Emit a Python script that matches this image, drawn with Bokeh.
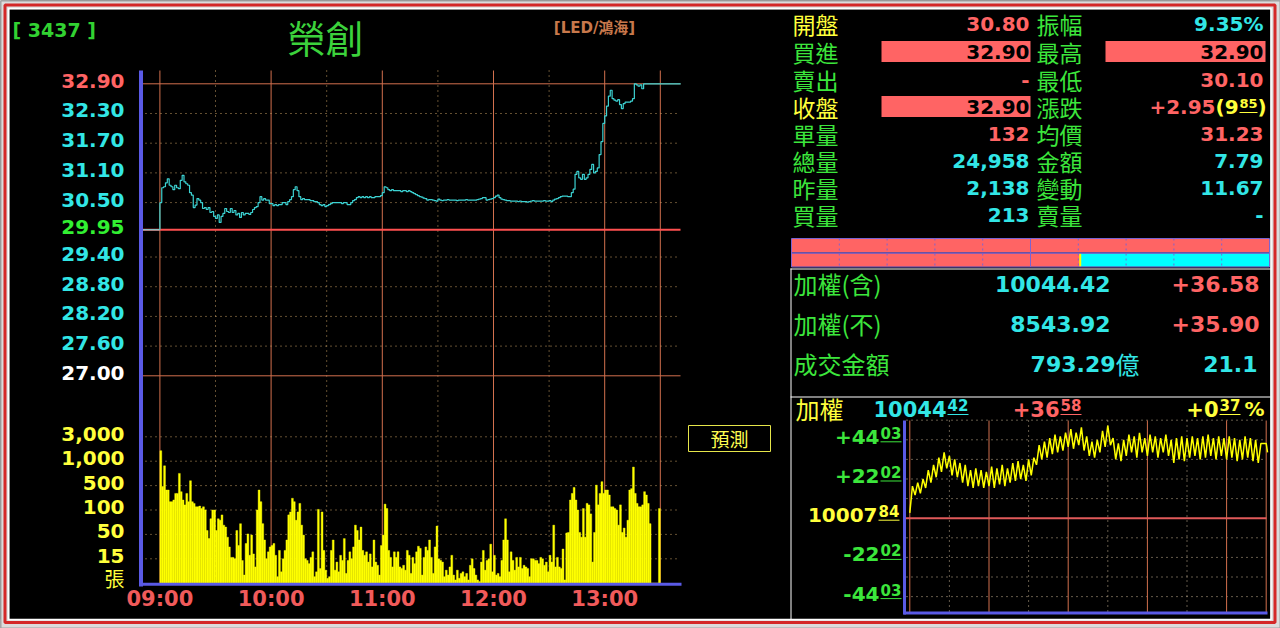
import numpy as np
from bokeh.plotting import figure
from bokeh.models import Range1d
from bokeh.embed import file_html
from bokeh.resources import INLINE
from bokeh.core.properties import value

# ---------------------------------------------------------------- data
STOCK_CODE = "3437"
STOCK_NAME = "榮創"
STOCK_TAG = "[LED/鴻海]"
PREV_CLOSE = 29.95

PRICE_TICKS = [32.90, 32.30, 31.70, 31.10, 30.50, 29.95, 29.40, 28.80, 28.20, 27.60, 27.00]
VOL_TICKS = [0, 15, 50, 100, 500, 1000, 3000]
VOL_TICK_LABELS = ["張", "15", "50", "100", "500", "1,000", "3,000"]
TIME_TICKS = [0, 60, 120, 180, 240]
TIME_LABELS = ["09:00", "10:00", "11:00", "12:00", "13:00"]
HOUR_LINES = [0, 60, 120, 180, 240, 270]
HALF_LINES = [30, 90, 150, 210]

# minutes after 09:00
PRICE_MINUTE = list(range(262)) + [281]
PRICE = [
    30.50, 30.80, 30.82, 30.90, 30.98, 30.85, 30.82, 30.76, 30.85, 30.80,
    30.78, 30.95, 31.05, 30.92, 30.88, 30.85, 30.70, 30.65, 30.40, 30.45,
    30.58, 30.55, 30.50, 30.38, 30.40, 30.36, 30.40, 30.30, 30.32, 30.22,
    30.18, 30.25, 30.10, 30.22, 30.28, 30.38, 30.32, 30.30, 30.38, 30.30,
    30.34, 30.25, 30.28, 30.20, 30.30, 30.25, 30.28, 30.28, 30.26, 30.30,
    30.36, 30.40, 30.42, 30.50, 30.62, 30.55, 30.58, 30.55, 30.55, 30.48,
    30.48, 30.44, 30.46, 30.44, 30.46, 30.46, 30.50, 30.50, 30.46, 30.52,
    30.56, 30.62, 30.76, 30.82, 30.74, 30.62, 30.56, 30.58, 30.56, 30.56,
    30.56, 30.54, 30.54, 30.52, 30.52, 30.50, 30.46, 30.44, 30.46, 30.42,
    30.44, 30.46, 30.48, 30.50, 30.50, 30.50, 30.50, 30.50, 30.48, 30.50,
    30.50, 30.46, 30.46, 30.50, 30.54, 30.56, 30.60, 30.62, 30.60, 30.62,
    30.60, 30.62, 30.60, 30.62, 30.60, 30.60, 30.62, 30.62, 30.62, 30.64,
    30.70, 30.82, 30.80, 30.76, 30.74, 30.76, 30.74, 30.74, 30.74, 30.74,
    30.72, 30.74, 30.74, 30.72, 30.74, 30.72, 30.70, 30.68, 30.66, 30.64,
    30.62, 30.61, 30.59, 30.58, 30.55, 30.56, 30.56, 30.55, 30.54, 30.53,
    30.57, 30.55, 30.54, 30.55, 30.55, 30.56, 30.55, 30.55, 30.55, 30.55,
    30.54, 30.55, 30.55, 30.55, 30.55, 30.56, 30.55, 30.55, 30.55, 30.55,
    30.55, 30.56, 30.57, 30.58, 30.60, 30.60, 30.55, 30.56, 30.57, 30.58,
    30.60, 30.63, 30.65, 30.60, 30.57, 30.56, 30.55, 30.54, 30.54, 30.53,
    30.53, 30.53, 30.53, 30.52, 30.53, 30.52, 30.52, 30.52, 30.51, 30.52,
    30.53, 30.54, 30.53, 30.53, 30.53, 30.53, 30.53, 30.54, 30.53, 30.53,
    30.54, 30.52, 30.55, 30.57, 30.58, 30.60, 30.62, 30.63, 30.63, 30.63,
    30.62, 30.62, 30.70, 30.77, 31.07, 31.13, 31.00, 30.97, 31.07, 30.97,
    31.00, 31.07, 31.17, 31.27, 31.10, 31.13, 31.20, 31.47, 31.73, 32.10,
    32.25, 32.45, 32.65, 32.77, 32.60, 32.57, 32.55, 32.58, 32.48, 32.40,
    32.50, 32.53, 32.53, 32.53, 32.55, 32.60, 32.90, 32.88, 32.85, 32.88,
    32.80, 32.90,
    32.90,
]

VOL_MINUTE = list(range(270))
VOLUME = [
    1860, 484, 905, 428, 428, 236, 236, 264, 372, 372,
    750, 400, 264, 184, 372, 236, 600, 236, 208, 152,
    152, 164, 124, 152, 100, 58, 44, 82, 100, 100,
    58, 82, 79, 90, 69, 65, 46, 32, 17, 17,
    15, 58, 34, 72, 14, 5, 37, 51, 20, 49,
    22, 10, 100, 428, 236, 72, 42, 15, 25, 32,
    34, 37, 20, 4, 27, 7, 15, 27, 42, 90,
    96, 292, 236, 79, 96, 208, 69, 49, 15, 14,
    12, 17, 25, 4, 7, 110, 9, 96, 27, 8,
    3, 4, 27, 42, 8, 13, 7, 20, 14, 44,
    6, 14, 25, 15, 32, 69, 58, 42, 65, 27,
    20, 25, 13, 22, 10, 42, 13, 11, 5, 34,
    49, 196, 124, 27, 17, 10, 25, 17, 25, 10,
    9, 11, 8, 27, 20, 6, 17, 12, 25, 33,
    30, 5, 17, 32, 27, 42, 17, 6, 32, 67,
    15, 14, 13, 4, 8, 5, 10, 20, 5, 2,
    8, 3, 6, 7, 4, 6, 2, 11, 15, 9,
    5, 2, 1, 13, 27, 8, 14, 15, 36, 7,
    20, 5, 6, 4, 14, 42, 82, 42, 7, 25,
    14, 8, 17, 10, 17, 9, 11, 10, 9, 4,
    15, 15, 14, 14, 12, 17, 15, 11, 13, 7,
    20, 13, 69, 10, 17, 10, 9, 29, 2, 53,
    54, 264, 372, 470, 264, 100, 54, 46, 124, 46,
    208, 184, 92, 13, 54, 510, 184, 372, 580, 372,
    428, 428, 346, 152, 152, 124, 100, 69, 184, 54,
    63, 46, 79, 428, 450, 880, 372, 208, 152, 152,
    184, 400, 346, 208, 72, 0, 0, 0, 0, 124,
]

# stats table
STAT_L1 = ["開盤", "買進", "賣出", "收盤", "單量", "總量", "昨量", "買量"]
STAT_V1 = ["30.80", "32.90", "-", "32.90", "132", "24,958", "2,138", "213"]
STAT_L2 = ["振幅", "最高", "最低", "漲跌", "均價", "金額", "變動", "賣量"]
STAT_V2 = ["9.35%", "32.90", "30.10", "+2.95", "31.23", "7.79", "11.67", "-"]
CHG_PCT = "9.85"

# bid/ask ratio bars
RATIO_TOP = 1.0
RATIO_BOTTOM = 0.604

# market index
IDX_ROWS = [("加權(含)", "10044.42", "+36.58"),
            ("加權(不)", "8543.92", "+35.90"),
            ("成交金額", "793.29", "21.1")]
IDX_LAST = "10044.42"
IDX_DIFF = "+36.58"
IDX_PCT = "+0.37"
IDX_BASE = 10007.84
IDX_TICKS = [44.03, 22.02, 0.0, -22.02, -44.03]
IDX_MINUTE = list(range(0, 271, 2)) + [271]
IDX_POINTS = [
    3, 18, 13, 20, 14, 22, 17, 27, 20, 30,
    23, 34, 26, 37, 28, 35, 24, 33, 23, 31,
    20, 30, 18, 27, 17, 28, 18, 27, 17, 26,
    18, 29, 17, 28, 19, 30, 18, 28, 20, 31,
    21, 32, 22, 30, 21, 33, 24, 34, 30, 41,
    33, 43, 34, 45, 36, 47, 37, 46, 38, 48,
    40, 50, 39, 48, 41, 51, 38, 46, 35, 43,
    34, 44, 37, 49, 40, 52, 41, 45, 33, 42,
    32, 44, 35, 47, 37, 46, 34, 48, 37, 45,
    35, 47, 37, 46, 34, 45, 37, 47, 35, 44,
    31, 45, 33, 46, 32, 45, 34, 46, 35, 45,
    33, 46, 34, 47, 35, 45, 33, 46, 35, 45,
    33, 46, 34, 45, 32, 44, 33, 46, 34, 45,
    32, 44, 31, 42, 42, 42,
    37,
]

# ---------------------------------------------------------------- style
BG = "#000000"
GREEN = "#3ce63c"
CYAN = "#32e6e6"
RED = "#ff6464"
YELLOW = "#ffff3c"
ORANGE = "#d2704e"
DOT = "#c8a064"
BLUE = "#5a5ae6"
PURPLE = "#7a64d2"
NUM = "DejaVu Sans"
CJK = "Noto Sans CJK TC"

X0, X1, Y0, Y1 = 0, 1280, 0, 628

p = figure(width=X1 - X0, height=Y1 - Y0,
           x_range=Range1d(X0, X1), y_range=Range1d(Y1, Y0),
           output_backend="svg", toolbar_location=None,
           x_axis_location=None, y_axis_location=None,
           min_border=0, background_fill_color=BG, border_fill_color=BG,
           outline_line_color=None)
p.grid.visible = False


def rng(v_a, px_a, v_b, px_b, px_start, px_end):
    k = (v_b - v_a) / (px_b - px_a)
    return Range1d(start=v_a + (px_start - px_a) * k, end=v_a + (px_end - px_a) * k)


p.extra_x_ranges = {
    "t1": rng(0, 159.4, 270, 659.8, X0, X1),
    "t2": rng(0, 909.3, 270, 1265.7, X0, X1),
    "pct": rng(0, 791, 1, 1269, X0, X1),
}
p.extra_y_ranges = {
    "price": rng(32.90, 83.3, 27.00, 375.3, Y1, Y0),
    "vol": rng(0, 582.7, 6, 436.3, Y1, Y0),
    "idx": rng(0, 517.7, 44.03, 439.3, Y1, Y0),
}


def dy(name, px):
    if name == "default":
        return px
    r = p.extra_y_ranges[name]
    return -px * (r.end - r.start) / (Y1 - Y0)


def txt(x, y, s, color, size, font=NUM, bold=True, align="left",
        xr="default", yr="default", yoff=0):
    p.text(x=[x], y=[y], text=[s], text_color=color, text_font=value(font),
           text_font_size=f"{size}px", text_font_style="bold" if bold else "normal",
           text_align=align, text_baseline="middle",
           x_range_name=xr, y_range_name=yr, y_offset=yoff)


def seg(x0, x1, y0, y1, color, width=1, dash="solid", xr="default", yr="default"):
    p.segment(x0=x0, x1=x1, y0=y0, y1=y1, line_color=color, line_width=width,
              line_dash=dash, x_range_name=xr, y_range_name=yr)


def sup(x, y, big, small, color, bsize, ssize, yr="default", raise_px=4, ul_px=6, yoff=0):
    txt(x, y, big, color, bsize, align="right", yr=yr, yoff=yoff)
    txt(x + 1, y, small, color, ssize, align="left", yr=yr, yoff=yoff - raise_px)
    w = len(small) * 0.70 * ssize
    yy = y + dy(yr, ul_px + yoff)
    seg([x + 1], [x + 1 + w], [yy], [yy], color, 1, yr=yr)


# ---------------------------------------------------------------- window frame
FRAME = "#dcdcdc"
p.quad(left=[0, 0, 0, 1270], right=[1280, 1280, 9, 1280], top=[0, 619, 0, 0],
       bottom=[9, 628, 628, 628], fill_color=FRAME, line_color=None)
p.quad(left=[4.5], right=[1274.5], top=[4.5], bottom=[622], fill_color=None,
       line_color="#d42828", line_width=3)
p.quad(left=[8], right=[1270.5], top=[8], bottom=[619], fill_color=None,
       line_color="#ffffff", line_width=1.5)
p.quad(left=[0.5], right=[1279.5], top=[0.5], bottom=[627.5], fill_color=None,
       line_color="#a0a0a0", line_width=1)

# ---------------------------------------------------------------- title
txt(12, 29, f"[ {STOCK_CODE} ]", "#32d232", 19)
txt(325, 36, STOCK_NAME, "#3cd23c", 38, font=CJK, bold=False, align="center")
txt(594, 27, STOCK_TAG, "#c8784b", 15, font=NUM + ", " + CJK, align="center")

# ---------------------------------------------------------------- main chart grid
n = len(HOUR_LINES)
seg(HOUR_LINES, HOUR_LINES, [70] * n, [584] * n, ORANGE, 1, xr="t1")
m = len(HALF_LINES)
seg(HALF_LINES, HALF_LINES, [70] * m, [584] * m, DOT, 1, "1 4", xr="t1")

mid_ticks = [v for v in PRICE_TICKS if v not in (PRICE_TICKS[0], PRICE_TICKS[-1], PREV_CLOSE)]
k = len(mid_ticks)
seg([145] * k, [680] * k, mid_ticks, mid_ticks, DOT, 1, "1 4", yr="price")
ends = [PRICE_TICKS[0], PRICE_TICKS[-1]]
seg([141, 141], [680, 680], ends, ends, ORANGE, 1, yr="price")

lv = list(range(1, len(VOL_TICKS)))
seg([145] * len(lv), [680] * len(lv), lv, lv, DOT, 1, "1 4", yr="vol")

# volume bars (piecewise level scale of the volume axis)
vol_level = np.interp(VOLUME, VOL_TICKS, np.arange(len(VOL_TICKS)))
p.vbar(x=np.array(VOL_MINUTE) + 0.5, top=vol_level, bottom=0, width=1.0,
       fill_color="#ffff00", line_color="#ffff00", line_width=0.4,
       x_range_name="t1", y_range_name="vol")

# previous close line and price
seg([141], [680], [PREV_CLOSE], [PREV_CLOSE], "#ff5050", 2, yr="price")
seg([-10], [0], [PREV_CLOSE], [PREV_CLOSE], "#8cbebe", 1.5, xr="t1", yr="price")
seg([0], [0], [PREV_CLOSE], [PRICE[0]], "#3cd2d2", 1.2, xr="t1", yr="price")
p.step(x=PRICE_MINUTE, y=PRICE, mode="after", line_color="#3cd2d2", line_width=1.2,
       x_range_name="t1", y_range_name="price")

# axes lines
seg([140.5], [140.5], [70], [586], BLUE, 4)
seg([139], [681], [583.8], [583.8], BLUE, 3)

# price labels
for i, v in enumerate(PRICE_TICKS):
    if i == 0:
        c = RED
    elif i == len(PRICE_TICKS) - 1:
        c = "#ffffff"
    elif v == PREV_CLOSE:
        c = "#32f032"
    else:
        c = CYAN
    txt(124, v, f"{v:.2f}", c, 20, align="right", yr="price", yoff=-3)

# volume labels
for i, (lab, v) in enumerate(zip(VOL_TICK_LABELS, VOL_TICKS)):
    if i == 0:
        txt(124, i, lab, YELLOW, 20, font=CJK, bold=False, align="right", yr="vol", yoff=-5)
    else:
        txt(124, i, lab, YELLOW, 20, align="right", yr="vol", yoff=-3)

# time labels
for t, lab in zip(TIME_TICKS, TIME_LABELS):
    p.text(x=[t], y=[598], text=[lab], text_color="#f05a5a", text_font=value(NUM),
           text_font_size="21px", text_font_style="bold", text_align="center",
           text_baseline="middle", x_range_name="t1")

# forecast box
p.quad(left=[688], right=[770], top=[425], bottom=[451], fill_color=None,
       line_color="#e6e64a", line_width=1)
txt(729, 438, "預測", "#ffff50", 19, font=CJK, bold=False, align="center")

# ---------------------------------------------------------------- stats table
ROW_Y = [23, 51, 79, 106, 133, 160, 187, 214]
V1_COL = [RED, "#000000", RED, "#000000", RED, CYAN, CYAN, CYAN]
V2_COL = [CYAN, "#000000", RED, RED, RED, CYAN, CYAN, CYAN]
for i, y in enumerate(ROW_Y):
    if V1_COL[i] == "#000000":
        p.quad(left=[881], right=[1030], top=[y - 10.5], bottom=[y + 10.5],
               fill_color=RED, line_color=None)
    if V2_COL[i] == "#000000":
        p.quad(left=[1105], right=[1265], top=[y - 10.5], bottom=[y + 10.5],
               fill_color=RED, line_color=None)
    lab_col = YELLOW if STAT_L1[i] in ("開盤", "收盤") else GREEN
    txt(792, y, STAT_L1[i], lab_col, 23, font=CJK, bold=False)
    txt(1029, y, STAT_V1[i], V1_COL[i], 20, align="right")
    txt(1036, y, STAT_L2[i], GREEN, 23, font=CJK, bold=False)
    if STAT_L2[i] == "漲跌":
        big, small = CHG_PCT.split(".")
        txt(1215, y, STAT_V2[i], RED, 20, align="right")
        txt(1215, y, "(" + big, YELLOW, 20, align="left")
        txt(1239, y, small, YELLOW, 13, align="left", yoff=-3)
        seg([1239], [1257], [y + 6], [y + 6], YELLOW, 1)
        txt(1257, y, ")", YELLOW, 20, align="left")
    else:
        txt(1263, y, STAT_V2[i], V2_COL[i], 20, align="right")

# ---------------------------------------------------------------- ratio bars
p.hbar(y=[245, 259.5], left=[0, 0], right=[RATIO_TOP, RATIO_BOTTOM], height=[13.5, 13.5],
       fill_color=RED, line_color=None, x_range_name="pct")
p.hbar(y=[259.5], left=[RATIO_BOTTOM], right=[1.0], height=[13.5],
       fill_color="#00ffff", line_color=None, x_range_name="pct")
seg([RATIO_BOTTOM], [RATIO_BOTTOM], [253], [266], "#ffff00", 2, xr="pct")
p.quad(left=[0, 0], right=[1, 1], top=[238, 252.5], bottom=[252.5, 266.5],
       fill_color=None, line_color=PURPLE, line_width=1, x_range_name="pct")
divs = [0.1, 0.2, 0.3, 0.4, 0.6, 0.7, 0.8, 0.9]
seg(divs, divs, [238] * len(divs), [266.5] * len(divs), PURPLE, 1, "2 3", xr="pct")
seg([0.5], [0.5], [238], [266.5], PURPLE, 1, xr="pct")

# white separators of right panel
seg([790, 790, 790.5], [1270, 1270, 790.5], [268.5, 396.5, 268], [268.5, 396.5, 619], "#ffffff", 1)

# ---------------------------------------------------------------- index text
for (lab, v, c), y in zip(IDX_ROWS, [283, 323, 363]):
    txt(793, y, lab, GREEN, 24, font=CJK, bold=False)
    if lab == "成交金額":
        txt(1115, y, v, CYAN, 22, align="right")
        txt(1115, y, "億", CYAN, 24, font=CJK, bold=False, align="left")
        txt(1257, y, c, CYAN, 22, align="right")
    else:
        txt(1110, y, v, CYAN, 22, align="right")
        txt(1259, y, c, RED, 22, align="right")

# ---------------------------------------------------------------- index chart
txt(795, 408, "加權", YELLOW, 24, font=CJK, bold=False)
b, s = IDX_LAST.split(".")
sup(946, 408, b, s, CYAN, 21, 15)
b, s = IDX_DIFF.split(".")
sup(1059, 408, b, s, RED, 21, 15)
b, s = IDX_PCT.split(".")
sup(1218, 408, b, s, YELLOW, 21, 15)
txt(1244, 408, "%", YELLOW, 20, align="left")

grid_pts = [11.01 * j for j in (-4, -3, -2, -1, 1, 2, 3, 4, 5)]
seg([906] * len(grid_pts), [1266] * len(grid_pts), grid_pts, grid_pts, "#c8b496", 1, "1 4", yr="idx")
seg(HOUR_LINES, HOUR_LINES, [420] * n, [612] * n, ORANGE, 1, xr="t2")
seg(HALF_LINES, HALF_LINES, [420] * m, [612] * m, "#c8b496", 1, "1 4", xr="t2")
seg([904], [1266], [0], [0], "#e05a5a", 2, yr="idx")
p.line(x=IDX_MINUTE, y=IDX_POINTS, line_color="#ffff00", line_width=1.5,
       x_range_name="t2", y_range_name="idx")
seg([904], [904], [420], [614], BLUE, 3)
seg([903], [1267], [612.5], [612.5], BLUE, 3)

for v in IDX_TICKS:
    if v == 0:
        b, s = f"{IDX_BASE:.2f}".split(".")
        sup(877, v, b, s, YELLOW, 20, 15, yr="idx", yoff=-3, ul_px=5)
    else:
        b, s = f"{v:+.2f}".split(".")
        sup(879, v, b, s, GREEN, 20, 15, yr="idx", yoff=-3, ul_px=5)

open("out.html", "w").write(file_html(p, INLINE))
